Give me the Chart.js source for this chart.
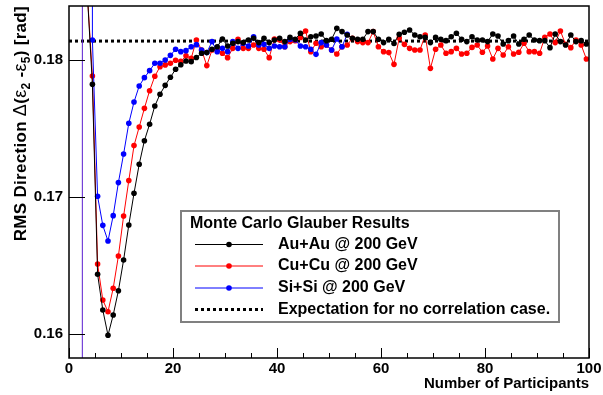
<!DOCTYPE html>
<html><head><meta charset="utf-8">
<script src="https://cdn.jsdelivr.net/npm/chart.js@4.4.0/dist/chart.umd.min.js"></script>
<style>html,body{margin:0;padding:0;background:#fff;}#wrap{width:603px;height:395px;}</style>
</head><body><div id="wrap"><canvas id="c" width="603" height="395"></canvas></div>
<script>
// ---------------- data ----------------
const npartAuCu = [3.5,4.5,5.5,6.5,7.5,8.5,9.5,10.5,11.5,12.5,13.5,14.5,15.5,16.5,17.5,18.5,19.5,20.5,21.5,22.5,
 23.5,24.5,25.5,26.5,27.5,28.5,29.5,30.5,31.5,32.5,33.5,34.5,35.5,36.5,37.5,38.5,39.5,40.5,41.5,42.5,
 43.5,44.5,45.5,46.5,47.5,48.5,49.5,50.5,51.5,52.5,53.5,54.5,55.5,56.5,57.5,58.5,59.5,60.5,61.5,62.5,
 63.5,64.5,65.5,66.5,67.5,68.5,69.5,70.5,71.5,72.5,73.5,74.5,75.5,76.5,77.5,78.5,79.5,80.5,81.5,82.5,
 83.5,84.5,85.5,86.5,87.5,88.5,89.5,90.5,91.5,92.5,93.5,94.5,95.5,96.5,97.5,98.5,99.5];
const npartSi = [2.5,3.5,4.5,5.5,6.5,7.5,8.5,9.5,10.5,11.5,12.5,13.5,14.5,15.5,16.5,17.5,18.5,19.5,20.5,21.5,
 22.5,23.5,24.5,25.5,26.5,27.5,28.5,29.5,30.5,31.5,32.5,33.5,34.5,35.5,36.5,37.5,38.5,39.5,40.5,41.5,
 42.5,43.5,44.5,45.5,46.5,47.5,48.5,49.5,50.5,51.5,52.5,53.5];
const rmsAuAu = [0.1850,0.17823,0.16436,0.16175,0.15991,0.16139,0.16316,0.16540,0.16796,0.17027,
 0.17239,0.17411,0.17531,0.17664,0.17750,0.17815,0.17874,0.17932,0.17965,0.17993,
 0.17988,0.18018,0.18049,0.18054,0.18078,0.18097,0.18153,0.18102,0.18122,0.18134,
 0.18127,0.18146,0.18158,0.18127,0.18158,0.18127,0.18146,0.18158,0.18134,0.18165,
 0.18151,0.18195,0.18146,0.18170,0.18175,0.18190,0.18141,0.18151,0.18231,0.18207,
 0.18182,0.18158,0.18151,0.18151,0.18207,0.18207,0.18151,0.18127,0.18151,0.18120,
 0.18187,0.18202,0.18219,0.18182,0.18170,0.18165,0.18127,0.18165,0.18151,0.18141,
 0.18170,0.18195,0.18151,0.18134,0.18170,0.18146,0.18146,0.18134,0.18190,0.18175,
 0.18117,0.18141,0.18175,0.18117,0.18151,0.18182,0.18146,0.18141,0.18141,0.18090,
 0.18190,0.18134,0.18109,0.18182,0.18134,0.18141,0.18117];
const rmsCuCu = [0.1850,0.17883,0.16511,0.16248,0.16163,0.16334,0.16569,0.16861,0.17120,0.17375,
 0.17511,0.17647,0.17776,0.17881,0.17951,0.17964,0.17976,0.17998,0.17990,0.18030,
 0.18012,0.18146,0.18073,0.17959,0.18073,0.18078,0.18049,0.18017,0.18085,0.18151,
 0.18085,0.18085,0.18109,0.18085,0.18078,0.18017,0.18153,0.18146,0.18097,0.18134,
 0.18141,0.18165,0.18212,0.18061,0.18122,0.18097,0.18109,0.18073,0.18044,0.18097,
 0.18109,0.18158,0.18134,0.18127,0.18127,0.18207,0.18097,0.18061,0.18054,0.17968,
 0.18160,0.18114,0.18085,0.18073,0.18073,0.18182,0.17939,0.18078,0.18109,0.18049,
 0.18061,0.18085,0.18044,0.18049,0.18092,0.18109,0.18056,0.18102,0.18007,0.18085,
 0.18036,0.18097,0.18044,0.18056,0.18122,0.18061,0.18061,0.18049,0.18165,0.18190,
 0.18127,0.18212,0.18114,0.18090,0.18146,0.18109,0.18007];
const rmsSiSi = [0.0,5.0,0.18146,0.17005,0.16793,0.16679,0.16864,0.17105,0.17314,0.17538,
 0.17693,0.17810,0.17871,0.17922,0.17976,0.17976,0.18000,0.18034,0.18078,0.18061,
 0.18068,0.18097,0.18112,0.18073,0.18054,0.18134,0.18061,0.18085,0.18061,0.18134,
 0.18085,0.18122,0.18102,0.18170,0.18109,0.18114,0.18085,0.18102,0.18097,0.18097,
 0.18151,0.18146,0.18102,0.18097,0.18078,0.18041,0.18127,0.18109,0.18073,0.18153,
 0.18097,0.18187];
const expectX = [0, 100];
const expectY = [0.18138, 0.18138];
const seriesLabels = ['Au+Au @ 200 GeV', 'Cu+Cu @ 200 GeV', 'Si+Si @ 200 GeV'];
const expectLabel = 'Expectation for no correlation case.';
const legendTitle = 'Monte Carlo Glauber Results';
const xTicks = [0, 20, 40, 60, 80, 100];
const xMinorTicks = [5,10,15,25,30,35,45,50,55,65,70,75,85,90,95];
const yTicks = [0.16, 0.17, 0.18];
const xTitle = 'Number of Participants';

// ---------------- chart ----------------
const FONT = '"Liberation Sans", Arial, sans-serif';
const pts = (xs, ys) => xs.map((x, i) => ({x: x, y: ys[i]}));

const decor = {
  id: 'decor',
  afterDraw(chart) {
    const ctx = chart.ctx, a = chart.chartArea;
    const xs = chart.scales.x, ys = chart.scales.y;
    ctx.save();
    // frame
    ctx.strokeStyle = '#000'; ctx.lineWidth = 1.5;
    ctx.strokeRect(a.left, a.top, a.right - a.left, a.bottom - a.top);
    ctx.lineWidth = 1;
    ctx.beginPath();
    xTicks.forEach(v => { const p = Math.round(xs.getPixelForValue(v)) + 0.5; ctx.moveTo(p, a.bottom); ctx.lineTo(p, a.bottom - 10); });
    xMinorTicks.forEach(v => { const p = Math.round(xs.getPixelForValue(v)) + 0.5; ctx.moveTo(p, a.bottom); ctx.lineTo(p, a.bottom - 5); });
    yTicks.forEach(v => { const p = Math.round(ys.getPixelForValue(v)) + 0.5; ctx.moveTo(a.left, p); ctx.lineTo(a.left + 16, p); });
    ctx.stroke();

    // y title with subscripts
    const parts = [
      {t: 'RMS Direction ', f: 'bold 17px ' + FONT, d: 0},
      {t: '\u0394', f: '18px ' + FONT, d: 0},
      {t: '(', f: 'bold 17px ' + FONT, d: 0},
      {t: '\u03b5', f: '18px ' + FONT, d: 0},
      {t: '2', f: 'bold 12px ' + FONT, d: 4},
      {t: ' -', f: 'bold 17px ' + FONT, d: 0},
      {t: '\u03b5', f: '18px ' + FONT, d: 0},
      {t: '5', f: 'bold 12px ' + FONT, d: 4},
      {t: ') [rad]', f: 'bold 17px ' + FONT, d: 0}
    ];
    ctx.save();
    try { ctx.letterSpacing = '0.3px'; } catch (e) {}
    let total = 0;
    parts.forEach(p => { ctx.font = p.f; p.w = ctx.measureText(p.t).width; total += p.w; });
    ctx.translate(26, 6 + total);
    ctx.rotate(-Math.PI / 2);
    ctx.fillStyle = '#000'; ctx.textAlign = 'left'; ctx.textBaseline = 'alphabetic';
    let cx = 0;
    parts.forEach(p => { ctx.font = p.f; ctx.fillText(p.t, cx, p.d); cx += p.w; });
    ctx.restore();

    // legend box
    const bx = 181, by = 211, bw = 378, bh = 111;
    ctx.fillStyle = '#fff';
    ctx.fillRect(bx, by, bw, bh);
    ctx.strokeStyle = '#808080'; ctx.lineWidth = 2;
    ctx.strokeRect(bx, by, bw, bh);
    ctx.fillStyle = '#000'; ctx.textBaseline = 'middle'; ctx.textAlign = 'left';
    ctx.font = 'bold 16px ' + FONT;
    ctx.fillText(legendTitle, 190, 224);
    const rows = [244.5, 266, 288, 309.5];
    const cols = ['#000000', '#ff0000', '#0000ff'];
    seriesLabels.forEach((lab, i) => {
      const y = rows[i];
      ctx.strokeStyle = cols[i]; ctx.lineWidth = 1;
      ctx.beginPath(); ctx.moveTo(195, y); ctx.lineTo(263, y); ctx.stroke();
      ctx.fillStyle = cols[i];
      ctx.beginPath(); ctx.arc(229, y, 2.8, 0, Math.PI * 2); ctx.fill();
      ctx.fillStyle = '#000';
      ctx.fillText(lab, 278, y);
    });
    ctx.strokeStyle = '#000'; ctx.lineWidth = 3; ctx.setLineDash([3, 3]);
    ctx.beginPath(); ctx.moveTo(195, rows[3]); ctx.lineTo(263, rows[3]); ctx.stroke();
    ctx.setLineDash([]);
    ctx.fillText(expectLabel, 278, rows[3]);
    ctx.restore();
  }
};

new Chart(document.getElementById('c'), {
  type: 'line',
  data: {
    datasets: [
      {label: seriesLabels[0], data: pts(npartAuCu, rmsAuAu), borderColor: '#000', backgroundColor: '#000',
       borderWidth: 1, pointRadius: 2.8, pointBorderWidth: 0, tension: 0},
      {label: seriesLabels[2], data: pts(npartSi, rmsSiSi), borderColor: '#0000ff', backgroundColor: '#0000ff',
       borderWidth: 1, pointRadius: 2.8, pointBorderWidth: 0, tension: 0,
       segment: {borderColor: c => c.p0.parsed.x < 3 ? '#5a1ed0' : undefined}},
      {label: seriesLabels[1], data: pts(npartAuCu, rmsCuCu), borderColor: '#ff0000', backgroundColor: '#ff0000',
       borderWidth: 1, pointRadius: 2.8, pointBorderWidth: 0, tension: 0},
      {label: expectLabel, data: pts(expectX, expectY), borderColor: '#000', borderWidth: 3,
       borderDash: [3, 3], pointRadius: 0, tension: 0}
    ]
  },
  options: {
    responsive: false, animation: false, devicePixelRatio: 1,
    layout: {padding: {left: 0, right: 14, top: 6, bottom: 0}},
    plugins: {legend: {display: false}, tooltip: {enabled: false}},
    scales: {
      x: {
        type: 'linear', min: 0, max: 100,
        afterBuildTicks: s => { s.ticks = xTicks.map(v => ({value: v})); },
        afterFit: s => { s.height = 37; s.paddingLeft = 0; s.paddingRight = 0; },
        grid: {display: false, drawTicks: false},
        border: {display: false},
        ticks: {color: '#000', font: {family: FONT, size: 15, weight: 'bold'}, padding: 2, maxRotation: 0, autoSkip: false,
                callback: v => String(v)},
        title: {display: true, text: xTitle, align: 'end', color: '#000',
                font: {family: FONT, size: 15, weight: 'bold'}, padding: {top: 0, bottom: 2}}
      },
      y: {
        type: 'linear', min: 0.15825, max: 0.18394,
        afterBuildTicks: s => { s.ticks = yTicks.map(v => ({value: v})); },
        afterFit: s => { s.width = 69; s.paddingTop = 0; s.paddingBottom = 0; },
        grid: {display: false, drawTicks: false},
        border: {display: false},
        ticks: {color: '#000', font: {family: FONT, size: 15, weight: 'bold'}, padding: 6,
                callback: v => Number(v).toFixed(2)}
      }
    }
  },
  plugins: [decor]
});
</script>
</body></html>
